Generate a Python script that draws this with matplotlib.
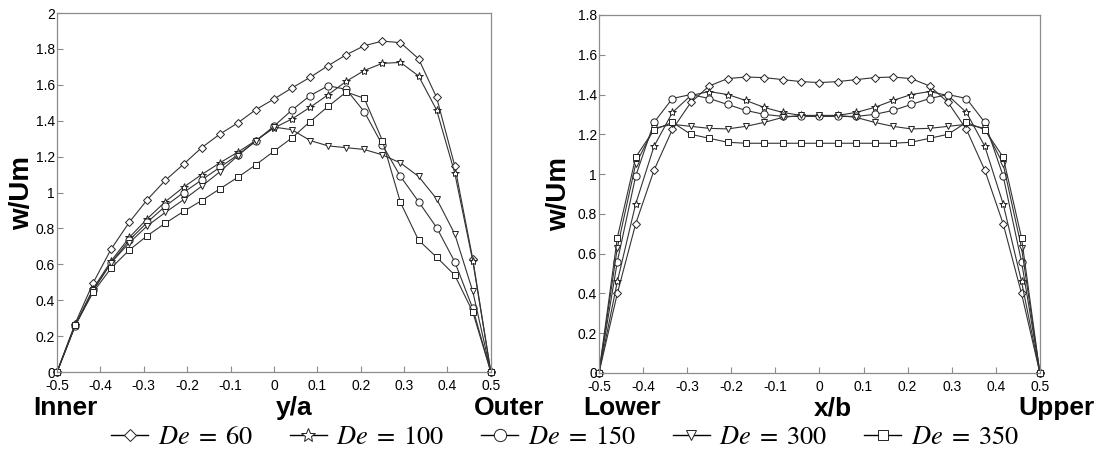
import matplotlib
matplotlib.use("Agg")
import matplotlib.pyplot as plt
from matplotlib.ticker import FuncFormatter, MultipleLocator

plt.rcParams["font.family"] = ["Liberation Sans", "DejaVu Sans"]
plt.rcParams["mathtext.fontset"] = "stix"

# sampling positions across the duct (25 stations)
pos = [-0.5, -0.4583, -0.4167, -0.375, -0.3333, -0.2917, -0.25, -0.2083,
       -0.1667, -0.125, -0.0833, -0.0417, 0.0, 0.0417, 0.0833, 0.125,
       0.1667, 0.2083, 0.25, 0.2917, 0.3333, 0.375, 0.4167, 0.4583, 0.5]

de_labels = [r"$De\;=\;60$", r"$De\;=\;100$", r"$De\;=\;150$",
             r"$De\;=\;300$", r"$De\;=\;350$"]

# axial velocity w/Um along y/a (inner -> outer wall)
ya_de60 = [0, 0.27, 0.497, 0.686, 0.835, 0.961, 1.069, 1.158, 1.25, 1.325, 1.388,
           1.462, 1.521, 1.583, 1.642, 1.707, 1.768, 1.818, 1.844, 1.835, 1.746,
           1.53, 1.15, 0.63, 0]
ya_de100 = [0, 0.26, 0.465, 0.62, 0.75, 0.855, 0.95, 1.03, 1.10, 1.165, 1.225,
            1.29, 1.36, 1.41, 1.475, 1.545, 1.62, 1.68, 1.72, 1.725, 1.65, 1.46,
            1.11, 0.62, 0]
ya_de150 = [0, 0.255, 0.455, 0.61, 0.735, 0.835, 0.925, 1.0, 1.07, 1.14, 1.21,
            1.285, 1.37, 1.46, 1.54, 1.595, 1.575, 1.45, 1.265, 1.09, 0.95, 0.805,
            0.615, 0.355, 0]
ya_de300 = [0, 0.26, 0.455, 0.61, 0.72, 0.815, 0.89, 0.96, 1.035, 1.115, 1.205,
            1.29, 1.365, 1.35, 1.29, 1.26, 1.25, 1.24, 1.21, 1.165, 1.09, 0.965,
            0.77, 0.45, 0]
ya_de350 = [0, 0.26, 0.445, 0.58, 0.68, 0.76, 0.83, 0.895, 0.955, 1.02, 1.085,
            1.155, 1.23, 1.305, 1.395, 1.48, 1.56, 1.525, 1.29, 0.945, 0.735, 0.64,
            0.54, 0.335, 0]

# axial velocity w/Um along x/b (lower -> upper wall)
xb_de60 = [0, 0.40, 0.75, 1.02, 1.225, 1.36, 1.443, 1.48, 1.488, 1.485, 1.475,
           1.465, 1.46, 1.465, 1.475, 1.485, 1.488, 1.48, 1.443, 1.36, 1.225,
           1.02, 0.75, 0.40, 0]
xb_de100 = [0, 0.46, 0.85, 1.14, 1.31, 1.395, 1.415, 1.40, 1.37, 1.335, 1.31,
            1.295, 1.29, 1.295, 1.31, 1.335, 1.37, 1.40, 1.415, 1.395, 1.31,
            1.14, 0.85, 0.46, 0]
xb_de150 = [0, 0.56, 0.99, 1.26, 1.38, 1.40, 1.38, 1.35, 1.32, 1.30, 1.29,
            1.29, 1.29, 1.29, 1.29, 1.30, 1.32, 1.35, 1.38, 1.40, 1.38, 1.26,
            0.99, 0.56, 0]
xb_de300 = [0, 0.63, 1.05, 1.23, 1.25, 1.24, 1.23, 1.227, 1.24, 1.26, 1.285,
            1.295, 1.295, 1.295, 1.285, 1.26, 1.24, 1.227, 1.23, 1.24, 1.25,
            1.23, 1.05, 0.63, 0]
xb_de350 = [0, 0.68, 1.085, 1.223, 1.26, 1.20, 1.18, 1.16, 1.155, 1.155, 1.155,
            1.155, 1.155, 1.155, 1.155, 1.155, 1.155, 1.16, 1.18, 1.20, 1.26,
            1.223, 1.085, 0.68, 0]

markers = ["D", "*", "o", "v", "s"]
msizes = [3.8, 6.0, 5.2, 4.3, 4.6]
line_c = "#333333"
spine_c = "#8c8c8c"


def tick_fmt(v, _):
    s = "%.1f" % v
    if s in ("0.0", "-0.0"):
        return "0"
    return s.rstrip("0").rstrip(".")


def style_axis(ax, ymax, label_x):
    ax.set_xlim(-0.5, 0.5)
    ax.set_ylim(0, ymax)
    ax.xaxis.set_major_locator(MultipleLocator(0.1))
    ax.yaxis.set_major_locator(MultipleLocator(0.2))
    ax.xaxis.set_major_formatter(FuncFormatter(tick_fmt))
    ax.yaxis.set_major_formatter(FuncFormatter(tick_fmt))
    ax.tick_params(direction="in", length=4, width=0.8, color=spine_c,
                   labelsize=10, top=False, right=False)
    ax.tick_params(axis="x", pad=5)
    ax.tick_params(axis="y", pad=1.5)
    for s in ax.spines.values():
        s.set_color(spine_c)
        s.set_linewidth(0.9)
    ax.set_ylabel("w/Um", fontsize=20, fontweight="bold", va="center")
    ax.yaxis.set_label_coords(label_x, 0.5)


fig = plt.figure(figsize=(11.01, 4.59), dpi=100)
ax1 = fig.add_axes([0.0518, 0.1895, 0.394, 0.782])
ax2 = fig.add_axes([0.544, 0.1874, 0.4005, 0.780])

handles = []
for ys, mk, ms, lab in zip([ya_de60, ya_de100, ya_de150, ya_de300, ya_de350],
                           markers, msizes, de_labels):
    h, = ax1.plot(pos, ys, color=line_c, lw=0.8, marker=mk, ms=ms,
                  mfc="white", mec="#222222", mew=0.7, label=lab, clip_on=False)
    handles.append(h)

for ys, mk, ms in zip([xb_de60, xb_de100, xb_de150, xb_de300, xb_de350],
                      markers, msizes):
    ax2.plot(pos, ys, color=line_c, lw=0.8, marker=mk, ms=ms,
             mfc="white", mec="#222222", mew=0.7, clip_on=False)

style_axis(ax1, 2.0, -0.08)
style_axis(ax2, 1.8, -0.09)

# wall names and axis names under each panel
bold = dict(fontsize=19, fontweight="bold", va="baseline")
base = 1 - 415 / 459
fig.text(33 / 1101, base, "Inner", ha="left", **bold)
fig.text(294 / 1101, base, "y/a", ha="center", **bold)
fig.text(544 / 1101, base, "Outer", ha="right", **bold)
fig.text(583 / 1101, base, "Lower", ha="left", **bold)
fig.text(833 / 1101, base, "x/b", ha="center", **bold)
fig.text(1095 / 1101, base, "Upper", ha="right", **bold)

leg = fig.legend(handles=handles, loc="center",
                 bbox_to_anchor=(565 / 1101, 1 - 437 / 459),
                 ncol=5, frameon=False, fontsize=19, handlelength=1.4,
                 handletextpad=0.36, columnspacing=1.4, markerscale=1.7,
                 borderpad=0.1)
for ln in leg.get_lines():
    ln.set_color("black")
    ln.set_linewidth(1.0)

fig.savefig("out.png", dpi=100)
